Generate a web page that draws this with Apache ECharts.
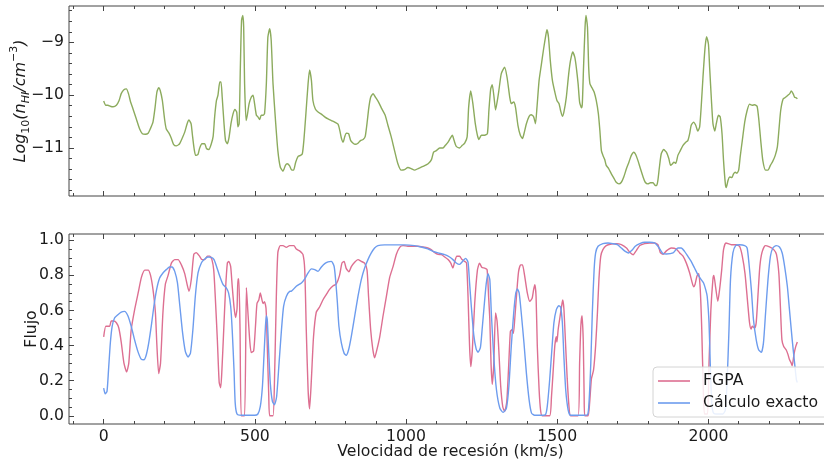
<!DOCTYPE html>
<html>
<head>
<meta charset="utf-8">
<script src="https://cdn.jsdelivr.net/npm/echarts@6/dist/echarts.min.js"></script>
<style>
html,body{margin:0;padding:0;background:#fff;}
#chart{width:824px;height:461px;}
</style>
</head>
<body>
<div id="chart"></div>
<script>
// ---- data ----
const xTickValues = [0, 500, 1000, 1500, 2000];
const topYTickValues = [-11, -10, -9];
const botYTickValues = [0, 0.2, 0.4, 0.6, 0.8, 1.0];
const seriesNames = ['FGPA', 'Cálculo exacto'];

const nHI = [[0,-10.11],[7,-10.19],[14,-10.19],[22,-10.21],[31,-10.22],[42,-10.19],[51,-10.10],[58,-9.97],[66,-9.90],[75,-9.88],[82,-9.97],[89,-10.13],[97,-10.26],[108,-10.45],[119,-10.64],[128,-10.73],[138,-10.74],[147,-10.72],[154,-10.64],[163,-10.51],[170,-10.23],[176,-9.94],[182,-9.86],[187,-9.91],[194,-10.10],[202,-10.48],[207,-10.64],[216,-10.72],[224,-10.82],[231,-10.93],[240,-10.96],[251,-10.92],[260,-10.81],[268,-10.70],[276,-10.54],[282,-10.47],[289,-10.54],[293,-10.73],[299,-11.01],[304,-11.14],[312,-11.12],[317,-11.01],[325,-10.92],[334,-10.92],[340,-11.01],[348,-11.03],[356,-10.92],[362,-10.78],[367,-10.41],[373,-10.10],[378,-10.00],[384,-9.75],[388,-9.75],[392,-10.04],[398,-10.54],[403,-10.86],[409,-10.92],[414,-10.82],[421,-10.54],[428,-10.35],[434,-10.27],[440,-10.32],[444,-10.60],[448,-10.54],[452,-9.47],[456,-8.58],[460,-8.49],[463,-8.71],[466,-9.78],[471,-10.48],[475,-10.38],[481,-10.16],[488,-10.04],[494,-10.00],[499,-10.16],[505,-10.38],[510,-10.41],[516,-10.46],[521,-10.38],[527,-10.38],[532,-10.35],[538,-9.78],[543,-8.90],[549,-8.74],[554,-8.96],[560,-9.78],[569,-10.54],[576,-11.05],[584,-11.36],[593,-11.44],[601,-11.33],[607,-11.30],[615,-11.34],[622,-11.42],[628,-11.42],[635,-11.27],[643,-11.16],[651,-11.14],[657,-11.11],[662,-10.86],[668,-10.41],[676,-9.78],[681,-9.52],[687,-9.72],[692,-10.10],[700,-10.26],[709,-10.32],[720,-10.36],[731,-10.41],[742,-10.45],[753,-10.48],[764,-10.51],[775,-10.55],[781,-10.67],[786,-10.81],[792,-10.89],[797,-10.79],[802,-10.72],[810,-10.73],[817,-10.86],[825,-10.91],[832,-10.93],[841,-10.91],[849,-10.86],[858,-10.84],[865,-10.78],[872,-10.48],[877,-10.23],[883,-10.04],[891,-9.97],[899,-10.04],[909,-10.13],[920,-10.26],[931,-10.38],[940,-10.57],[951,-10.79],[962,-11.05],[973,-11.30],[984,-11.42],[995,-11.41],[1006,-11.37],[1017,-11.39],[1028,-11.42],[1040,-11.39],[1056,-11.35],[1073,-11.30],[1084,-11.22],[1091,-11.08],[1100,-11.05],[1111,-11.00],[1122,-11.00],[1130,-10.95],[1139,-10.89],[1146,-10.82],[1153,-10.76],[1159,-10.86],[1166,-10.97],[1177,-11.00],[1186,-10.95],[1194,-10.91],[1202,-10.79],[1207,-10.23],[1214,-9.92],[1221,-10.16],[1229,-10.54],[1236,-10.76],[1241,-10.84],[1249,-10.76],[1260,-10.76],[1269,-10.73],[1274,-10.29],[1280,-9.88],[1285,-9.80],[1291,-10.04],[1296,-10.28],[1302,-10.10],[1307,-9.91],[1315,-9.59],[1326,-9.47],[1334,-9.66],[1343,-10.04],[1348,-10.16],[1356,-10.13],[1362,-10.23],[1370,-10.57],[1378,-10.76],[1385,-10.82],[1390,-10.73],[1398,-10.54],[1407,-10.40],[1414,-10.37],[1422,-10.41],[1428,-10.54],[1433,-10.23],[1440,-9.72],[1447,-9.44],[1455,-9.12],[1462,-8.87],[1466,-8.76],[1471,-8.90],[1477,-9.34],[1484,-9.72],[1492,-9.94],[1499,-10.10],[1506,-10.16],[1511,-10.29],[1517,-10.40],[1522,-10.32],[1530,-10.04],[1538,-9.59],[1544,-9.34],[1551,-9.18],[1558,-9.28],[1563,-9.47],[1569,-9.78],[1574,-10.13],[1580,-10.24],[1583,-10.16],[1587,-9.47],[1592,-8.71],[1595,-8.49],[1600,-8.71],[1604,-9.47],[1608,-9.78],[1615,-9.86],[1622,-9.94],[1629,-10.10],[1636,-10.35],[1641,-10.67],[1646,-11.05],[1651,-11.14],[1657,-11.22],[1662,-11.33],[1670,-11.39],[1679,-11.49],[1688,-11.58],[1695,-11.65],[1704,-11.68],[1712,-11.65],[1720,-11.55],[1729,-11.39],[1737,-11.27],[1745,-11.14],[1753,-11.08],[1759,-11.12],[1767,-11.24],[1775,-11.39],[1784,-11.55],[1791,-11.65],[1800,-11.68],[1808,-11.66],[1817,-11.66],[1824,-11.71],[1829,-11.71],[1833,-11.61],[1838,-11.36],[1844,-11.11],[1852,-11.03],[1861,-11.08],[1869,-11.20],[1875,-11.33],[1881,-11.30],[1886,-11.27],[1892,-11.29],[1899,-11.14],[1907,-11.05],[1916,-10.95],[1925,-10.89],[1932,-10.86],[1938,-10.73],[1943,-10.57],[1951,-10.51],[1958,-10.57],[1965,-10.68],[1971,-10.60],[1976,-10.23],[1982,-9.66],[1989,-9.09],[1994,-8.89],[2000,-9.03],[2004,-9.47],[2010,-10.10],[2015,-10.54],[2021,-10.68],[2026,-10.54],[2033,-10.38],[2039,-10.41],[2045,-10.73],[2050,-11.24],[2056,-11.68],[2059,-11.75],[2065,-11.61],[2070,-11.55],[2078,-11.56],[2083,-11.49],[2089,-11.46],[2094,-11.48],[2100,-11.42],[2105,-11.17],[2112,-10.86],[2120,-10.51],[2128,-10.29],[2136,-10.17],[2145,-10.19],[2153,-10.18],[2161,-10.21],[2167,-10.48],[2173,-10.86],[2180,-11.24],[2189,-11.42],[2197,-11.42],[2205,-11.33],[2213,-11.25],[2221,-11.14],[2228,-10.98],[2233,-10.67],[2239,-10.29],[2247,-10.07],[2255,-10.04],[2263,-10.00],[2269,-9.97],[2274,-9.92],[2280,-9.97],[2285,-10.04],[2291,-10.05],[2294,-10.07]];

const fluxFGPA = [[0,0.45],[7,0.51],[14,0.51],[20,0.51],[25,0.54],[33,0.54],[42,0.53],[50,0.50],[58,0.42],[67,0.30],[76,0.25],[83,0.30],[91,0.49],[103,0.61],[114,0.70],[125,0.79],[136,0.83],[147,0.83],[155,0.80],[163,0.72],[171,0.59],[176,0.40],[182,0.24],[188,0.30],[196,0.59],[204,0.75],[213,0.80],[224,0.87],[235,0.89],[246,0.89],[257,0.86],[268,0.81],[277,0.74],[282,0.71],[290,0.78],[298,0.92],[306,0.93],[317,0.91],[325,0.89],[334,0.89],[343,0.91],[351,0.91],[358,0.89],[364,0.83],[369,0.68],[376,0.43],[382,0.19],[387,0.16],[391,0.26],[397,0.49],[403,0.72],[409,0.87],[414,0.88],[420,0.85],[425,0.74],[431,0.62],[436,0.56],[441,0.61],[444,0.78],[447,0.78],[451,0.49],[455,0.0],[466,0.0],[472,0.73],[477,0.59],[483,0.43],[488,0.36],[496,0.37],[502,0.51],[507,0.64],[513,0.66],[518,0.70],[521,0.68],[527,0.64],[532,0.65],[537,0.61],[541,0.40],[546,0.11],[549,0.0],[560,0.0],[565,0.21],[571,0.68],[576,0.93],[584,0.97],[593,0.97],[604,0.96],[615,0.97],[629,0.97],[637,0.95],[648,0.94],[659,0.92],[665,0.83],[670,0.49],[676,0.15],[681,0.04],[687,0.21],[694,0.45],[703,0.59],[714,0.62],[725,0.66],[736,0.69],[747,0.72],[758,0.74],[769,0.75],[780,0.80],[788,0.87],[795,0.88],[802,0.84],[811,0.82],[819,0.85],[830,0.875],[841,0.89],[852,0.88],[863,0.87],[871,0.83],[876,0.68],[883,0.49],[890,0.38],[896,0.33],[904,0.38],[913,0.45],[924,0.57],[935,0.68],[946,0.79],[957,0.85],[968,0.92],[979,0.96],[990,0.97],[1006,0.966],[1023,0.966],[1039,0.966],[1056,0.962],[1072,0.956],[1083,0.947],[1095,0.93],[1106,0.92],[1117,0.918],[1128,0.905],[1139,0.89],[1148,0.87],[1155,0.842],[1161,0.88],[1168,0.909],[1177,0.909],[1185,0.89],[1194,0.88],[1200,0.871],[1205,0.68],[1210,0.40],[1214,0.28],[1219,0.37],[1227,0.64],[1236,0.83],[1243,0.87],[1251,0.845],[1260,0.842],[1268,0.833],[1273,0.68],[1277,0.55],[1281,0.30],[1285,0.18],[1290,0.29],[1296,0.586],[1301,0.54],[1306,0.40],[1313,0.17],[1320,0.05],[1326,0.025],[1333,0.08],[1339,0.27],[1345,0.48],[1350,0.49],[1355,0.47],[1359,0.54],[1366,0.70],[1372,0.82],[1379,0.86],[1385,0.86],[1392,0.80],[1401,0.70],[1409,0.652],[1417,0.67],[1422,0.72],[1426,0.747],[1430,0.68],[1434,0.40],[1440,0.15],[1445,0.03],[1450,0.0],[1475,0.0],[1481,0.11],[1486,0.24],[1492,0.40],[1497,0.45],[1499,0.42],[1503,0.49],[1508,0.55],[1514,0.62],[1518,0.66],[1522,0.61],[1527,0.43],[1533,0.21],[1539,0.05],[1544,0.0],[1569,0.0],[1574,0.30],[1578,0.51],[1582,0.57],[1586,0.43],[1589,0.11],[1591,0.0],[1602,0.0],[1607,0.07],[1613,0.21],[1620,0.26],[1627,0.40],[1633,0.59],[1638,0.78],[1644,0.91],[1651,0.947],[1662,0.97],[1679,0.979],[1696,0.981],[1712,0.975],[1729,0.956],[1740,0.932],[1751,0.918],[1762,0.943],[1773,0.97],[1789,0.981],[1806,0.985],[1822,0.985],[1833,0.975],[1841,0.93],[1850,0.92],[1861,0.94],[1877,0.956],[1894,0.95],[1905,0.928],[1916,0.91],[1927,0.87],[1938,0.814],[1946,0.76],[1951,0.735],[1956,0.75],[1962,0.795],[1968,0.81],[1973,0.72],[1978,0.49],[1983,0.15],[1987,0.01],[1997,0.01],[2002,0.30],[2008,0.6],[2015,0.78],[2018,0.80],[2024,0.73],[2031,0.652],[2037,0.72],[2044,0.833],[2050,0.947],[2058,0.985],[2076,0.975],[2092,0.975],[2103,0.966],[2112,0.91],[2121,0.81],[2130,0.64],[2136,0.53],[2141,0.494],[2145,0.51],[2153,0.50],[2158,0.53],[2164,0.69],[2170,0.85],[2177,0.93],[2188,0.97],[2202,0.962],[2216,0.947],[2225,0.92],[2233,0.81],[2238,0.624],[2243,0.434],[2249,0.395],[2257,0.376],[2263,0.35],[2268,0.32],[2274,0.30],[2277,0.285],[2283,0.35],[2288,0.39],[2294,0.42]];

const fluxExact = [[0,0.158],[5,0.125],[11,0.139],[16,0.26],[22,0.415],[28,0.51],[36,0.557],[47,0.576],[58,0.591],[69,0.595],[80,0.57],[91,0.51],[102,0.434],[113,0.367],[124,0.323],[133,0.319],[141,0.348],[149,0.415],[158,0.519],[166,0.624],[175,0.719],[185,0.785],[196,0.814],[207,0.833],[218,0.848],[226,0.848],[235,0.823],[244,0.757],[252,0.624],[261,0.472],[270,0.367],[279,0.335],[287,0.357],[295,0.49],[303,0.68],[312,0.814],[323,0.871],[334,0.894],[345,0.905],[356,0.903],[365,0.89],[373,0.852],[384,0.795],[395,0.747],[406,0.728],[413,0.70],[420,0.624],[425,0.49],[431,0.262],[435,0.072],[441,0.01],[455,0.003],[477,0.003],[499,0.003],[510,0.01],[518,0.053],[525,0.167],[530,0.338],[535,0.51],[538,0.57],[541,0.548],[546,0.357],[551,0.186],[558,0.082],[565,0.063],[572,0.11],[580,0.30],[588,0.49],[595,0.624],[604,0.68],[615,0.709],[621,0.71],[637,0.738],[654,0.757],[665,0.78],[676,0.814],[687,0.837],[698,0.833],[709,0.823],[720,0.848],[731,0.867],[742,0.877],[753,0.88],[762,0.852],[767,0.776],[773,0.643],[778,0.51],[786,0.415],[795,0.357],[802,0.344],[810,0.376],[819,0.453],[830,0.567],[841,0.68],[852,0.776],[863,0.842],[874,0.89],[885,0.928],[896,0.956],[907,0.97],[929,0.974],[962,0.974],[995,0.974],[1028,0.97],[1050,0.962],[1072,0.951],[1089,0.937],[1106,0.928],[1128,0.918],[1144,0.905],[1155,0.89],[1166,0.871],[1177,0.863],[1188,0.882],[1197,0.897],[1205,0.875],[1210,0.76],[1216,0.62],[1224,0.46],[1232,0.38],[1238,0.362],[1246,0.39],[1252,0.5],[1258,0.62],[1265,0.75],[1271,0.81],[1277,0.776],[1282,0.586],[1290,0.338],[1299,0.148],[1310,0.044],[1321,0.019],[1332,0.044],[1340,0.167],[1348,0.395],[1356,0.586],[1363,0.70],[1368,0.723],[1374,0.70],[1381,0.586],[1390,0.415],[1398,0.243],[1407,0.091],[1415,0.015],[1425,0.003],[1447,0.003],[1461,0.006],[1467,0.053],[1475,0.205],[1483,0.395],[1489,0.529],[1497,0.605],[1505,0.627],[1511,0.62],[1517,0.529],[1522,0.338],[1528,0.148],[1536,0.034],[1544,0.003],[1580,0.003],[1600,0.006],[1605,0.072],[1611,0.30],[1616,0.586],[1622,0.833],[1627,0.928],[1635,0.966],[1651,0.981],[1668,0.985],[1684,0.981],[1699,0.975],[1712,0.956],[1725,0.937],[1736,0.928],[1747,0.943],[1758,0.966],[1773,0.981],[1789,0.989],[1806,0.989],[1822,0.985],[1833,0.966],[1842,0.943],[1850,0.924],[1861,0.922],[1883,0.928],[1899,0.956],[1910,0.956],[1921,0.937],[1932,0.909],[1943,0.88],[1954,0.842],[1965,0.804],[1976,0.776],[1984,0.757],[1991,0.719],[1996,0.68],[2002,0.529],[2006,0.30],[2011,0.072],[2017,0.015],[2032,0.01],[2048,0.01],[2056,0.034],[2062,0.205],[2068,0.49],[2073,0.776],[2081,0.928],[2090,0.97],[2103,0.975],[2120,0.97],[2128,0.956],[2134,0.871],[2142,0.719],[2149,0.548],[2158,0.434],[2166,0.376],[2175,0.361],[2182,0.415],[2189,0.586],[2197,0.776],[2205,0.909],[2213,0.956],[2224,0.97],[2235,0.962],[2244,0.928],[2252,0.852],[2261,0.738],[2268,0.605],[2277,0.434],[2285,0.30],[2291,0.205],[2294,0.19]];

// ---- styling / layout ----
const FONT = 'DejaVu Sans';
const FS = 15.7;
const AX = '#444';
const TXT = '#1a1a1a';
const xMin = -114.7, xMax = 2408.7;
const topYMin = -11.91, topYMax = -8.31;
const botYMin = -0.047, botYMax = 1.036;

function range(a, b, step) { const r = []; for (let v = a; v <= b + 1e-9; v += step) r.push(+v.toFixed(4)); return r; }
const xMinor = range(-100, 2400, 100).filter(v => v % 500 !== 0);
const topYMinor = range(-11.8, -8.4, 0.2).filter(v => Math.abs(v - Math.round(v)) > 1e-6);
const botYMinor = range(0, 1.0, 0.05).filter(v => Math.abs(v * 5 - Math.round(v * 5)) > 1e-6);

const minus = v => (v < 0 ? '\u2212' + Math.abs(v) : String(v));

function xAx(grid, pos, values, len, labels, extra) {
  return Object.assign({
    type: 'value', gridIndex: grid, position: pos, min: xMin, max: xMax, offset: 0,
    axisLine: { show: false, onZero: false },
    splitLine: { show: false },
    axisTick: { show: true, inside: true, length: len, customValues: values, lineStyle: { color: AX, width: 1 } },
    axisLabel: labels ? { show: true, customValues: values, formatter: v => String(v), fontFamily: FONT, fontSize: FS, color: TXT, margin: 5 } : { show: false }
  }, extra || {});
}
function yAx(grid, mn, mx, values, len, labels, fmt, extra) {
  return Object.assign({
    type: 'value', gridIndex: grid, position: 'left', min: mn, max: mx, offset: 0,
    axisLine: { show: false, onZero: false },
    splitLine: { show: false },
    axisTick: { show: true, inside: true, length: len, customValues: values, lineStyle: { color: AX, width: 1 } },
    axisLabel: labels ? { show: true, customValues: values, formatter: fmt, fontFamily: FONT, fontSize: FS, color: TXT, margin: 5 } : { show: false }
  }, extra || {});
}

const chart = echarts.init(document.getElementById('chart'), null, { renderer: 'canvas' });
chart.setOption({
  animation: false,
  backgroundColor: '#fff',
  grid: [
    { left: 69, top: 6, width: 763, height: 190, show: true, borderColor: AX, borderWidth: 1, backgroundColor: 'transparent', containLabel: false, outerBoundsMode: 'none' },
    { left: 69, top: 234, width: 763, height: 190, show: true, borderColor: AX, borderWidth: 1, backgroundColor: 'transparent', containLabel: false, outerBoundsMode: 'none' }
  ],
  xAxis: [
    xAx(0, 'bottom', xTickValues, 5, false),
    xAx(0, 'bottom', xMinor, 3, false),
    xAx(0, 'top', xTickValues, 5, false),
    xAx(0, 'top', xMinor, 3, false),
    xAx(1, 'bottom', xTickValues, 5, true, {
      name: 'Velocidad de recesión (km/s)', nameLocation: 'middle', nameGap: 20, nameMoveOverlap: false,
      nameTextStyle: { fontFamily: FONT, fontSize: FS, color: TXT }
    }),
    xAx(1, 'bottom', xMinor, 3, false),
    xAx(1, 'top', xTickValues, 5, false),
    xAx(1, 'top', xMinor, 3, false)
  ],
  yAxis: [
    yAx(0, topYMin, topYMax, topYTickValues, 5, true, minus, {
      name: '{a|Log}{b|10}{a|(}{a|n}{c|HI}{a|/cm}{d|\u22123}{a|)}',
      nameLocation: 'middle', nameGap: 37, nameMoveOverlap: false,
      nameTextStyle: {
        fontFamily: FONT, fontSize: 16, color: TXT,
        rich: {
          a: { fontFamily: FONT, fontSize: 16, fontStyle: 'italic', color: TXT, lineHeight: 23 },
          b: { fontFamily: FONT, fontSize: 11, color: TXT, verticalAlign: 'bottom', lineHeight: 12 },
          c: { fontFamily: FONT, fontSize: 11, fontStyle: 'italic', color: TXT, verticalAlign: 'bottom', lineHeight: 12 },
          d: { fontFamily: FONT, fontSize: 11, color: TXT, verticalAlign: 'top', lineHeight: 12 }
        }
      }
    }),
    yAx(0, topYMin, topYMax, topYMinor, 3, false),
    yAx(1, botYMin, botYMax, botYTickValues, 5, true, v => v.toFixed(1), {
      name: 'Flujo', nameLocation: 'middle', nameGap: 29, nameMoveOverlap: false,
      nameTextStyle: { fontFamily: FONT, fontSize: FS, color: TXT }
    }),
    yAx(1, botYMin, botYMax, botYMinor, 3, false)
  ],
  legend: {
    orient: 'vertical', left: 653, top: 367,
    icon: 'rect', itemWidth: 32, itemHeight: 1.6, itemGap: 6,
    padding: [6, 20, 6, 5],
    backgroundColor: 'rgba(255,255,255,0.85)', borderColor: '#d4d4d4', borderWidth: 1, borderRadius: 4,
    textStyle: { fontFamily: FONT, fontSize: FS, color: TXT, padding: [0, 0, 0, 8], lineHeight: 16 },
    data: seriesNames
  },
  series: [
    { type: 'line', name: 'nHI', xAxisIndex: 0, yAxisIndex: 0, data: nHI, symbol: 'none', smooth: 0.2,
      lineStyle: { color: '#8cab5d', width: 1.4 }, itemStyle: { color: '#8cab5d' } },
    { type: 'line', name: seriesNames[0], xAxisIndex: 4, yAxisIndex: 2, data: fluxFGPA, symbol: 'none', smooth: 0.2,
      lineStyle: { color: '#dd6f91', width: 1.4 }, itemStyle: { color: '#dd6f91' } },
    { type: 'line', name: seriesNames[1], xAxisIndex: 4, yAxisIndex: 2, data: fluxExact, symbol: 'none', smooth: 0.2,
      lineStyle: { color: '#6d9cee', width: 1.4 }, itemStyle: { color: '#6d9cee' } }
  ]
});
</script>
</body>
</html>
